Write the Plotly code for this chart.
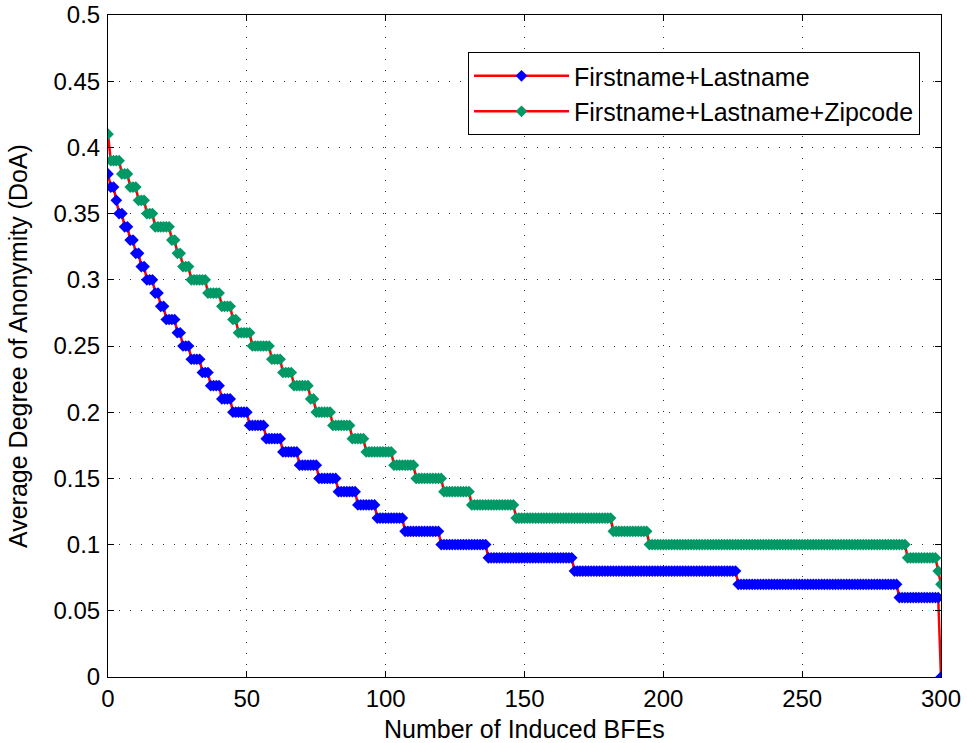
import plotly.graph_objects as go

# Step values (DoA) and the number of consecutive x points (0..300) at each value
fl_values = [0.38, 0.37, 0.36, 0.35, 0.34, 0.33, 0.32, 0.31, 0.30, 0.29, 0.28, 0.27, 0.26,
             0.25, 0.24, 0.23, 0.22, 0.21, 0.20, 0.19, 0.18, 0.17, 0.16, 0.15, 0.14, 0.13,
             0.12, 0.11, 0.10, 0.09, 0.08, 0.07, 0.06, 0.00]
fl_counts = [1, 2, 1, 2, 2, 2, 2, 2, 3, 2, 2, 4, 2,
             3, 4, 3, 4, 4, 6, 6, 6, 6, 7, 7, 7, 7,
             10, 13, 17, 31, 59, 58, 15, 1]

flz_values = [0.41, 0.39, 0.38, 0.37, 0.36, 0.35, 0.34, 0.33, 0.32, 0.31, 0.30, 0.29, 0.28,
              0.27, 0.26, 0.25, 0.24, 0.23, 0.22, 0.21, 0.20, 0.19, 0.18, 0.17, 0.16, 0.15,
              0.14, 0.13, 0.12, 0.11, 0.10, 0.09, 0.08, 0.07]
flz_counts = [1, 4, 3, 3, 3, 3, 6, 2, 2, 3, 6, 5, 4,
              2, 5, 7, 4, 4, 6, 2, 6, 7, 5, 10, 8, 10,
              10, 16, 35, 13, 93, 11, 1, 1]

series_names = ["Firstname+Lastname", "Firstname+Lastname+Zipcode"]
x_title = "Number of Induced BFEs"
y_title = "Average Degree of Anonymity (DoA)"
x_ticks = [0, 50, 100, 150, 200, 250, 300]
y_ticks = [0, 0.05, 0.1, 0.15, 0.2, 0.25, 0.3, 0.35, 0.4, 0.45, 0.5]
y_tick_text = ["0", "0.05", "0.1", "0.15", "0.2", "0.25", "0.3", "0.35", "0.4", "0.45", "0.5"]


def expand(values, counts):
    ys = []
    for v, c in zip(values, counts):
        ys.extend([v] * c)
    return list(range(len(ys))), ys


x1, y1 = expand(fl_values, fl_counts)
x2, y2 = expand(flz_values, flz_counts)

FONT = "Liberation Sans, Arial, Helvetica, sans-serif"

fig = go.Figure()
fig.add_trace(go.Scatter(
    x=x1, y=y1, mode="lines+markers", name=series_names[0],
    line=dict(color="#ff0000", width=2.5),
    marker=dict(symbol="diamond", size=9, color="#0000ff", line=dict(width=0)),
))
fig.add_trace(go.Scatter(
    x=x2, y=y2, mode="lines+markers", name=series_names[1],
    line=dict(color="#ff0000", width=2.5),
    marker=dict(symbol="diamond", size=9, color="#009966", line=dict(width=0)),
))

axis_common = dict(
    showline=True, linecolor="black", linewidth=1, mirror="ticks",
    ticks="inside", ticklen=6, tickcolor="black", tickwidth=1,
    showgrid=True, gridcolor="rgba(0,0,0,0.8)", gridwidth=1, griddash="1px,10px",
    zeroline=False, automargin=False,
    tickfont=dict(family=FONT, size=24, color="black"),
)

fig.update_xaxes(
    range=[0, 300], tickvals=x_ticks, ticktext=[str(v) for v in x_ticks],
    **axis_common,
)
fig.update_yaxes(
    range=[0, 0.5], tickvals=y_ticks, ticktext=y_tick_text,
    ticklabelstandoff=2,
    **axis_common,
)

fig.update_layout(
    width=967, height=743,
    margin=dict(l=108, r=26, t=15, b=66),
    plot_bgcolor="white", paper_bgcolor="white",
    font=dict(family=FONT, size=25, color="black"),
    showlegend=True,
    legend=dict(
        x=0.9748, y=0.944, xanchor="right", yanchor="top",
        bgcolor="white", bordercolor="black", borderwidth=1,
        font=dict(family=FONT, size=25, color="black"),
        itemwidth=95,
    ),
    annotations=[
        dict(text=x_title, xref="paper", yref="paper", x=0.5, y=-0.079,
             xanchor="center", yanchor="middle", showarrow=False,
             font=dict(family=FONT, size=25, color="black")),
        dict(text=y_title, xref="paper", yref="paper", x=-0.108, y=0.5,
             xanchor="center", yanchor="middle", showarrow=False, textangle=-90,
             font=dict(family=FONT, size=25, color="black")),
    ],
)

fig.write_html("out.html")
